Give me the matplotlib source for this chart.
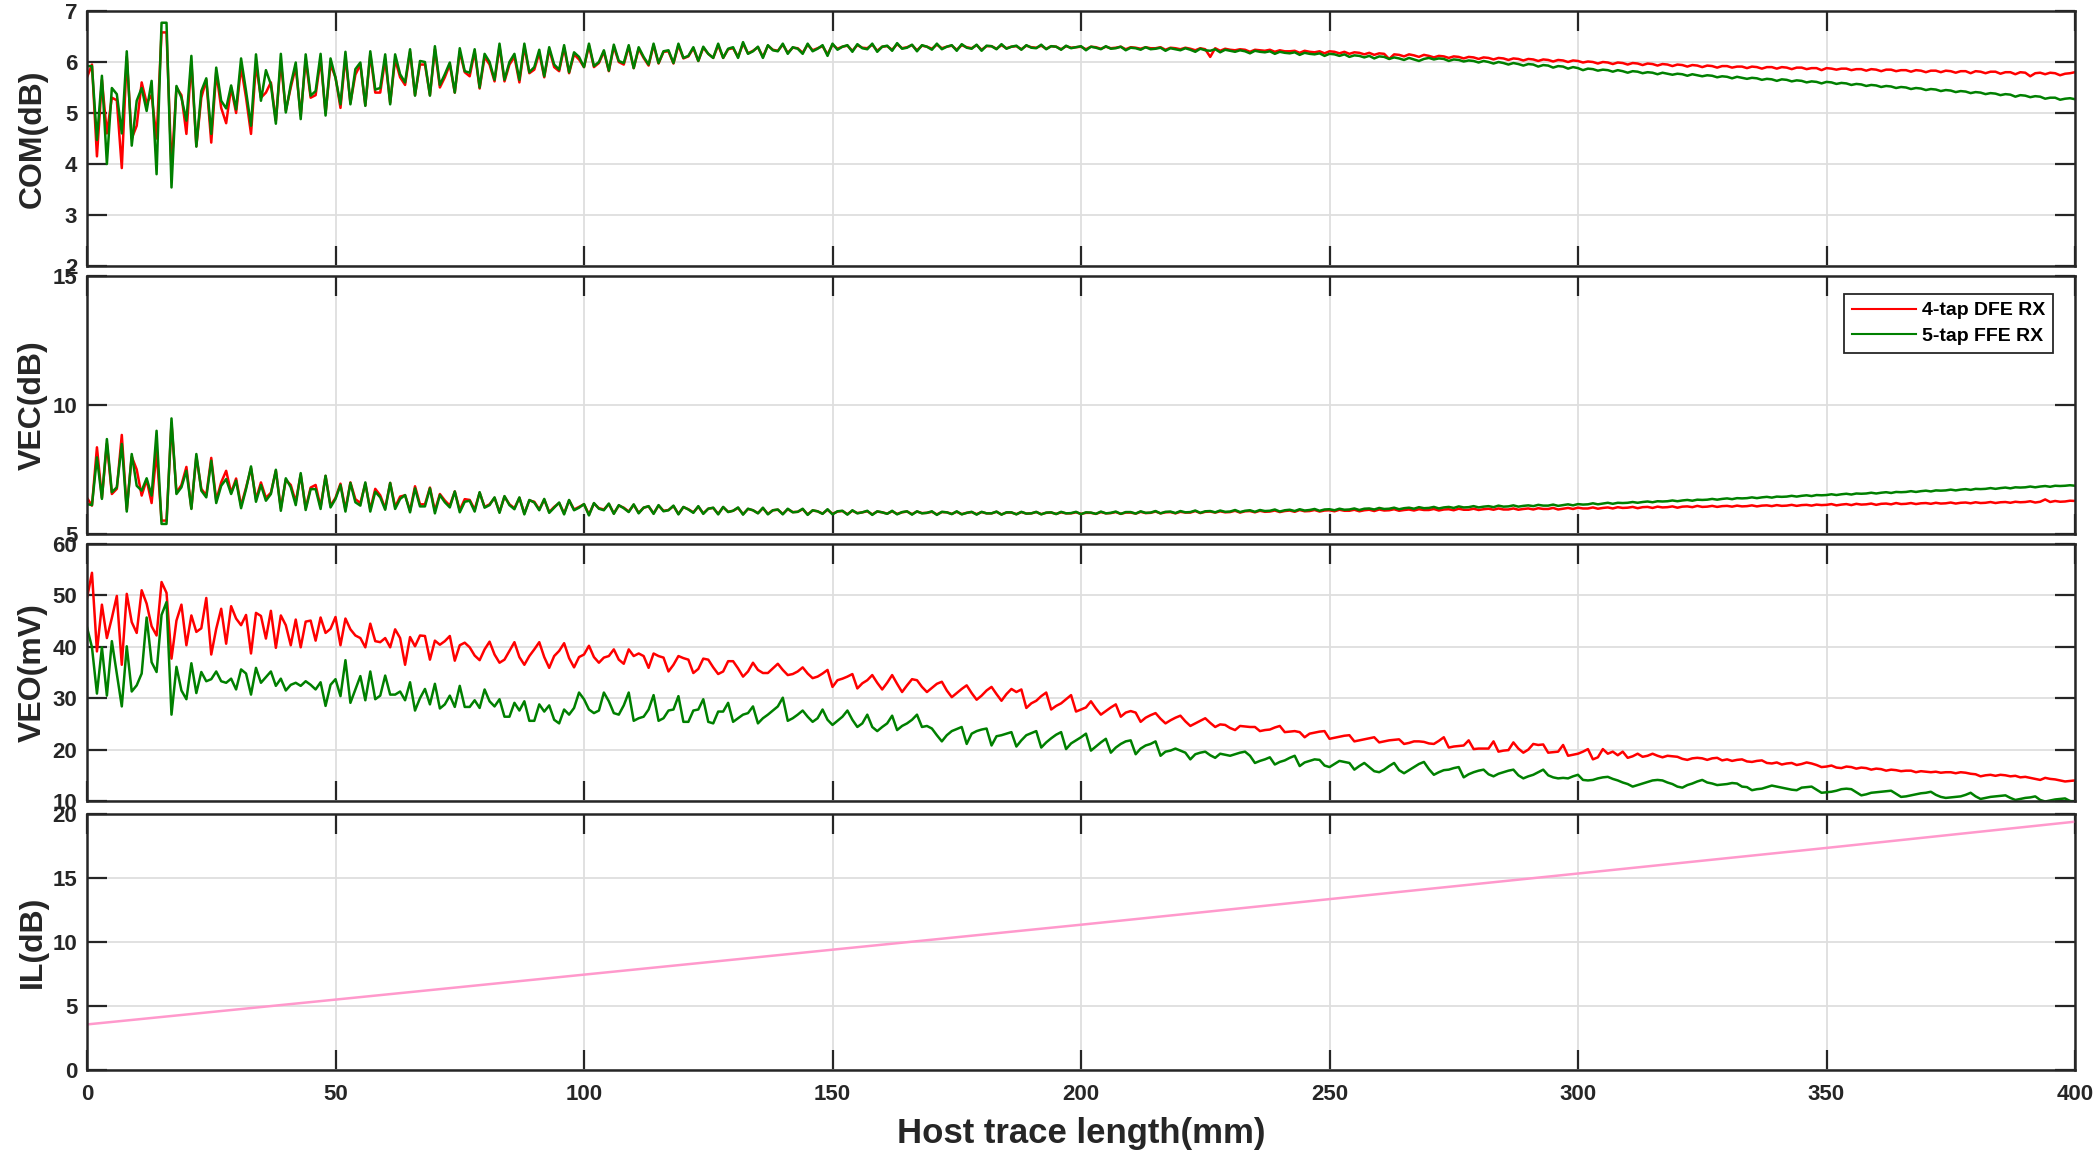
import numpy as np
import matplotlib
matplotlib.use("Agg")
import matplotlib.pyplot as plt

plt.rcParams['font.family'] = ['Liberation Sans', 'DejaVu Sans']
plt.rcParams['font.weight'] = 'bold'

# ---- data, 1 mm steps from 0 to 400 mm ----
com_dfe = [
    5.70, 5.95, 4.15, 5.65, 4.60, 5.30, 5.25, 3.92, 6.10, 4.50,
    4.75, 5.60, 5.20, 5.35, 4.50, 6.58, 6.58, 3.90, 5.50, 5.35,
    4.59, 6.00, 4.35, 5.30, 5.65, 4.42, 5.80, 5.10, 4.80, 5.50,
    5.00, 5.90, 5.30, 4.59, 5.95, 5.30, 5.40, 5.60, 4.85, 6.00,
    5.05, 5.50, 5.90, 4.95, 6.05, 5.30, 5.35, 6.05, 5.00, 5.95,
    5.70, 5.10, 6.10, 5.20, 5.75, 5.95, 5.15, 6.15, 5.40, 5.40,
    6.05, 5.20, 6.05, 5.70, 5.55, 6.20, 5.35, 5.95, 5.95, 5.35,
    6.25, 5.50, 5.70, 5.95, 5.40, 6.20, 5.80, 5.72, 6.20, 5.48,
    6.10, 5.95, 5.62, 6.30, 5.62, 5.95, 6.10, 5.60, 6.30, 5.78,
    5.85, 6.18, 5.70, 6.25, 5.90, 5.82, 6.28, 5.78, 6.15, 6.05,
    5.90, 6.32, 5.90, 5.98, 6.20, 5.82, 6.30, 6.00, 5.95, 6.30,
    5.88, 6.26, 6.08, 5.93, 6.33, 5.97, 6.20, 6.21, 5.97, 6.33,
    6.07, 6.11, 6.27, 6.02, 6.28, 6.16, 6.08, 6.33, 6.08, 6.25,
    6.27, 6.10, 6.36, 6.17, 6.22, 6.29, 6.10, 6.32, 6.24, 6.22,
    6.34, 6.18, 6.28, 6.27, 6.18, 6.34, 6.23, 6.27, 6.31, 6.15,
    6.34, 6.26, 6.30, 6.32, 6.22, 6.33, 6.28, 6.27, 6.34, 6.22,
    6.30, 6.31, 6.24, 6.35, 6.27, 6.29, 6.33, 6.23, 6.32, 6.30,
    6.26, 6.34, 6.27, 6.30, 6.32, 6.24, 6.33, 6.29, 6.27, 6.33,
    6.24, 6.31, 6.31, 6.26, 6.33, 6.27, 6.30, 6.31, 6.25, 6.32,
    6.29, 6.28, 6.32, 6.26, 6.31, 6.30, 6.25, 6.31, 6.28, 6.29,
    6.30, 6.25, 6.30, 6.29, 6.26, 6.30, 6.27, 6.28, 6.30, 6.25,
    6.29, 6.28, 6.26, 6.29, 6.27, 6.27, 6.29, 6.24, 6.28, 6.27,
    6.25, 6.28, 6.26, 6.23, 6.27, 6.25, 6.10, 6.27, 6.22, 6.26,
    6.24, 6.23, 6.25, 6.24, 6.20, 6.24, 6.23, 6.22, 6.24, 6.20,
    6.23, 6.21, 6.21, 6.22, 6.18, 6.22, 6.20, 6.19, 6.21, 6.17,
    6.21, 6.20, 6.17, 6.20, 6.16, 6.19, 6.18, 6.15, 6.18, 6.14,
    6.17, 6.16, 6.06, 6.15, 6.14, 6.11, 6.15, 6.13, 6.10, 6.14,
    6.12, 6.09, 6.12, 6.11, 6.08, 6.11, 6.10, 6.07, 6.10, 6.09,
    6.06, 6.09, 6.08, 6.05, 6.08, 6.07, 6.04, 6.07, 6.06, 6.03,
    6.06, 6.05, 6.02, 6.05, 6.04, 6.01, 6.04, 6.03, 6.00, 6.03,
    6.02, 5.99, 6.01, 6.00, 5.97, 6.00, 5.99, 5.96, 5.99, 5.98,
    5.95, 5.98, 5.97, 5.94, 5.97, 5.96, 5.93, 5.96, 5.95, 5.92,
    5.95, 5.94, 5.91, 5.94, 5.93, 5.90, 5.93, 5.92, 5.89, 5.92,
    5.92, 5.89, 5.91, 5.91, 5.88, 5.91, 5.90, 5.87, 5.90, 5.90,
    5.87, 5.90, 5.89, 5.86, 5.89, 5.89, 5.86, 5.88, 5.88, 5.84,
    5.88, 5.87, 5.85, 5.87, 5.87, 5.84, 5.86, 5.86, 5.83, 5.86,
    5.85, 5.82, 5.85, 5.85, 5.82, 5.84, 5.84, 5.81, 5.84, 5.83,
    5.80, 5.83, 5.83, 5.80, 5.83, 5.82, 5.79, 5.82, 5.82, 5.78,
    5.82, 5.81, 5.78, 5.81, 5.81, 5.77, 5.80, 5.80, 5.76, 5.80,
    5.79, 5.72, 5.78, 5.79, 5.76, 5.79, 5.78, 5.74, 5.77, 5.78,
    5.80,
]
com_ffe = [
    5.92, 5.92, 4.47, 5.73, 4.00, 5.49, 5.37, 4.60, 6.21, 4.36,
    5.24, 5.49, 5.04, 5.63, 3.80, 6.77, 6.77, 3.54, 5.53, 5.30,
    4.85, 6.12, 4.34, 5.43, 5.68, 4.59, 5.89, 5.24, 5.09, 5.54,
    5.07, 6.07, 5.43, 4.75, 6.15, 5.24, 5.84, 5.56, 4.79, 6.16,
    5.01, 5.56, 5.99, 4.88, 6.15, 5.34, 5.43, 6.16, 4.95, 6.07,
    5.69, 5.17, 6.20, 5.17, 5.86, 5.99, 5.14, 6.21, 5.46, 5.49,
    6.15, 5.17, 6.15, 5.76, 5.60, 6.25, 5.34, 6.02, 6.00, 5.34,
    6.31, 5.55, 5.76, 5.99, 5.40, 6.27, 5.82, 5.79, 6.25, 5.50,
    6.16, 6.00, 5.65, 6.36, 5.65, 6.00, 6.16, 5.65, 6.36, 5.80,
    5.90, 6.24, 5.72, 6.29, 5.95, 5.85, 6.33, 5.80, 6.19, 6.10,
    5.90, 6.36, 5.92, 6.00, 6.23, 5.83, 6.34, 6.02, 5.98, 6.33,
    5.88, 6.29, 6.10, 5.95, 6.36, 5.98, 6.21, 6.23, 5.98, 6.36,
    6.08, 6.12, 6.29, 6.02, 6.30, 6.16, 6.08, 6.36, 6.08, 6.26,
    6.29, 6.08, 6.39, 6.16, 6.21, 6.30, 6.08, 6.33, 6.23, 6.21,
    6.36, 6.16, 6.29, 6.26, 6.16, 6.36, 6.21, 6.26, 6.33, 6.12,
    6.36, 6.24, 6.30, 6.33, 6.20, 6.35, 6.27, 6.25, 6.36, 6.20,
    6.30, 6.32, 6.22, 6.37, 6.26, 6.28, 6.34, 6.21, 6.33, 6.30,
    6.24, 6.36, 6.25, 6.30, 6.33, 6.22, 6.35, 6.28, 6.26, 6.34,
    6.22, 6.32, 6.31, 6.25, 6.35, 6.26, 6.30, 6.32, 6.24, 6.33,
    6.28, 6.27, 6.34, 6.25, 6.31, 6.30, 6.24, 6.32, 6.27, 6.29,
    6.31, 6.23, 6.30, 6.28, 6.25, 6.31, 6.26, 6.27, 6.30, 6.23,
    6.28, 6.27, 6.24, 6.29, 6.25, 6.26, 6.28, 6.22, 6.27, 6.25,
    6.23, 6.27, 6.24, 6.20, 6.26, 6.23, 6.22, 6.25, 6.19, 6.24,
    6.22, 6.20, 6.23, 6.21, 6.17, 6.22, 6.20, 6.19, 6.21, 6.16,
    6.20, 6.18, 6.17, 6.19, 6.14, 6.18, 6.16, 6.15, 6.17, 6.12,
    6.16, 6.15, 6.12, 6.15, 6.10, 6.13, 6.12, 6.09, 6.12, 6.07,
    6.11, 6.10, 6.06, 6.09, 6.07, 6.04, 6.08, 6.05, 6.02, 6.06,
    6.08, 6.05, 6.07, 6.06, 6.02, 6.05, 6.04, 6.01, 6.03, 6.02,
    5.99, 6.02, 6.00, 5.97, 6.00, 5.98, 5.95, 5.98, 5.96, 5.93,
    5.96, 5.95, 5.91, 5.94, 5.93, 5.89, 5.92, 5.91, 5.87, 5.90,
    5.88, 5.84, 5.87, 5.86, 5.83, 5.85, 5.84, 5.81, 5.84, 5.82,
    5.79, 5.82, 5.81, 5.78, 5.80, 5.79, 5.76, 5.79, 5.77, 5.75,
    5.77, 5.76, 5.73, 5.76, 5.74, 5.72, 5.74, 5.73, 5.70, 5.72,
    5.71, 5.68, 5.71, 5.69, 5.67, 5.69, 5.68, 5.65, 5.67, 5.66,
    5.63, 5.66, 5.65, 5.62, 5.64, 5.63, 5.60, 5.62, 5.61, 5.58,
    5.61, 5.60, 5.57, 5.59, 5.58, 5.55, 5.57, 5.56, 5.53, 5.55,
    5.54, 5.51, 5.53, 5.52, 5.49, 5.51, 5.50, 5.47, 5.49, 5.48,
    5.45, 5.47, 5.46, 5.43, 5.45, 5.44, 5.41, 5.43, 5.42, 5.39,
    5.41, 5.40, 5.37, 5.39, 5.38, 5.35, 5.37, 5.36, 5.32, 5.35,
    5.34, 5.31, 5.33, 5.32, 5.28, 5.30, 5.30, 5.26, 5.28, 5.29,
    5.27,
]

vec_dfe = [
    6.40, 6.10, 8.36, 6.40, 8.50, 6.55, 6.75, 8.84, 5.95, 8.00,
    7.50, 6.49, 7.10, 6.20, 8.20, 5.52, 5.52, 9.30, 6.60, 6.90,
    7.60, 6.00, 8.00, 6.75, 6.50, 7.95, 6.30, 7.00, 7.45, 6.60,
    7.15, 6.10, 6.80, 7.55, 6.35, 7.00, 6.40, 6.60, 7.45, 6.00,
    7.10, 6.90, 6.25, 7.30, 6.00, 6.80, 6.90, 6.05, 7.25, 6.10,
    6.40, 6.95, 5.95, 7.00, 6.35, 6.20, 6.95, 5.95, 6.75, 6.50,
    6.00, 6.98, 6.05, 6.45, 6.50, 5.90, 6.85, 6.15, 6.15, 6.80,
    5.90, 6.55, 6.30, 6.10, 6.65, 5.92, 6.35, 6.32, 5.95, 6.60,
    6.05, 6.15, 6.40, 5.85, 6.45, 6.15, 6.00, 6.40, 5.80, 6.30,
    6.25, 5.95, 6.33, 5.85, 6.05, 6.20, 5.80, 6.30, 5.95, 6.05,
    6.15, 5.76, 6.18, 6.00, 5.95, 6.16, 5.80, 6.10, 6.02, 5.87,
    6.13, 5.82, 6.02, 6.07, 5.80, 6.10, 5.90, 5.93, 6.08, 5.78,
    6.04, 5.96, 5.84, 6.06, 5.80, 5.98, 6.01, 5.78, 6.04, 5.86,
    5.90, 6.01, 5.77, 5.97, 5.92, 5.81, 6.00, 5.78, 5.92, 5.94,
    5.78, 5.96, 5.85, 5.86, 5.96, 5.76, 5.91, 5.88, 5.79, 5.94,
    5.78, 5.87, 5.89, 5.77, 5.90, 5.81, 5.84, 5.88, 5.76, 5.87,
    5.84, 5.79, 5.88, 5.78, 5.84, 5.87, 5.77, 5.87, 5.81, 5.82,
    5.86, 5.76, 5.85, 5.84, 5.78, 5.86, 5.77, 5.82, 5.85, 5.77,
    5.85, 5.80, 5.80, 5.86, 5.76, 5.83, 5.83, 5.77, 5.85, 5.79,
    5.80, 5.85, 5.77, 5.82, 5.83, 5.78, 5.84, 5.80, 5.80, 5.84,
    5.78, 5.82, 5.82, 5.78, 5.85, 5.80, 5.81, 5.85, 5.78, 5.83,
    5.83, 5.79, 5.86, 5.81, 5.82, 5.87, 5.80, 5.84, 5.85, 5.80,
    5.86, 5.83, 5.83, 5.89, 5.81, 5.86, 5.87, 5.83, 5.88, 5.84,
    5.85, 5.90, 5.83, 5.88, 5.89, 5.84, 5.90, 5.86, 5.87, 5.91,
    5.85, 5.89, 5.91, 5.86, 5.93, 5.88, 5.89, 5.93, 5.87, 5.91,
    5.92, 5.88, 5.94, 5.90, 5.90, 5.94, 5.88, 5.92, 5.94, 5.89,
    5.95, 5.91, 5.92, 5.96, 5.90, 5.93, 5.95, 5.91, 5.96, 5.93,
    5.93, 5.97, 5.91, 5.95, 5.96, 5.92, 5.98, 5.94, 5.94, 5.98,
    5.93, 5.96, 5.98, 5.94, 5.99, 5.95, 5.95, 5.99, 5.94, 5.97,
    5.99, 5.95, 6.00, 5.97, 5.97, 6.01, 5.95, 5.98, 6.01, 5.97,
    6.02, 5.99, 5.99, 6.03, 5.98, 6.01, 6.03, 5.99, 6.04, 6.01,
    6.02, 6.05, 6.00, 6.04, 6.05, 6.01, 6.06, 6.03, 6.04, 6.07,
    6.02, 6.06, 6.07, 6.04, 6.09, 6.05, 6.06, 6.09, 6.05, 6.08,
    6.09, 6.06, 6.10, 6.07, 6.08, 6.11, 6.07, 6.10, 6.11, 6.08,
    6.12, 6.09, 6.10, 6.13, 6.09, 6.12, 6.13, 6.10, 6.14, 6.12,
    6.13, 6.16, 6.11, 6.14, 6.16, 6.12, 6.17, 6.14, 6.15, 6.18,
    6.13, 6.17, 6.18, 6.15, 6.20, 6.16, 6.17, 6.20, 6.16, 6.19,
    6.20, 6.17, 6.21, 6.18, 6.19, 6.22, 6.18, 6.21, 6.22, 6.19,
    6.23, 6.20, 6.21, 6.24, 6.20, 6.23, 6.24, 6.21, 6.25, 6.23,
    6.24, 6.27, 6.22, 6.25, 6.34, 6.24, 6.28, 6.25, 6.26, 6.29,
    6.28,
]
vec_ffe = [
    6.16, 6.12, 7.97, 6.36, 8.68, 6.62, 6.81, 8.49, 5.87, 8.10,
    6.87, 6.68, 7.16, 6.49, 9.00, 5.39, 5.39, 9.48, 6.55, 6.81,
    7.45, 5.97, 8.10, 6.68, 6.42, 7.84, 6.20, 6.87, 7.13, 6.55,
    7.07, 6.00, 6.74, 7.62, 6.25, 6.90, 6.29, 6.55, 7.49, 5.90,
    7.16, 6.81, 6.12, 7.36, 5.93, 6.74, 6.74, 5.97, 7.26, 6.03,
    6.36, 6.90, 5.87, 6.98, 6.23, 6.10, 7.00, 5.87, 6.64, 6.42,
    5.94, 6.98, 5.97, 6.36, 6.51, 5.84, 6.77, 6.07, 6.07, 6.77,
    5.80, 6.51, 6.23, 6.03, 6.65, 5.84, 6.25, 6.29, 5.87, 6.62,
    6.02, 6.12, 6.42, 5.82, 6.47, 6.12, 5.96, 6.42, 5.76, 6.32,
    6.22, 5.92, 6.36, 5.82, 6.02, 6.22, 5.76, 6.32, 5.92, 6.02,
    6.16, 5.72, 6.20, 5.98, 5.92, 6.18, 5.78, 6.12, 6.00, 5.85,
    6.15, 5.80, 6.02, 6.08, 5.78, 6.12, 5.88, 5.92, 6.10, 5.76,
    6.05, 5.95, 5.82, 6.08, 5.78, 5.98, 6.02, 5.76, 6.05, 5.85,
    5.90, 6.03, 5.75, 5.98, 5.92, 5.80, 6.02, 5.76, 5.92, 5.95,
    5.76, 5.98, 5.84, 5.86, 5.98, 5.74, 5.92, 5.88, 5.78, 5.96,
    5.76, 5.88, 5.90, 5.75, 5.92, 5.80, 5.84, 5.90, 5.74, 5.88,
    5.84, 5.78, 5.90, 5.76, 5.85, 5.88, 5.75, 5.88, 5.80, 5.82,
    5.88, 5.74, 5.86, 5.84, 5.77, 5.88, 5.76, 5.82, 5.86, 5.75,
    5.86, 5.80, 5.80, 5.87, 5.75, 5.84, 5.84, 5.76, 5.86, 5.79,
    5.80, 5.86, 5.76, 5.83, 5.84, 5.77, 5.86, 5.80, 5.81, 5.86,
    5.77, 5.84, 5.83, 5.78, 5.87, 5.80, 5.82, 5.87, 5.78, 5.85,
    5.85, 5.79, 5.88, 5.82, 5.83, 5.89, 5.80, 5.86, 5.87, 5.81,
    5.89, 5.84, 5.85, 5.91, 5.82, 5.88, 5.89, 5.84, 5.91, 5.86,
    5.87, 5.93, 5.85, 5.90, 5.92, 5.86, 5.93, 5.89, 5.90, 5.95,
    5.87, 5.92, 5.94, 5.89, 5.96, 5.91, 5.93, 5.97, 5.90, 5.95,
    5.96, 5.92, 5.98, 5.94, 5.95, 5.99, 5.93, 5.98, 5.99, 5.95,
    6.01, 5.97, 5.98, 6.02, 5.96, 6.00, 6.02, 5.98, 6.04, 6.00,
    6.01, 6.05, 5.99, 6.03, 6.05, 6.01, 6.07, 6.03, 6.04, 6.08,
    6.03, 6.06, 6.08, 6.04, 6.10, 6.06, 6.07, 6.11, 6.06, 6.09,
    6.11, 6.08, 6.13, 6.10, 6.10, 6.14, 6.09, 6.12, 6.15, 6.11,
    6.16, 6.14, 6.15, 6.19, 6.15, 6.18, 6.21, 6.17, 6.21, 6.20,
    6.21, 6.24, 6.21, 6.24, 6.26, 6.23, 6.27, 6.26, 6.27, 6.30,
    6.27, 6.30, 6.32, 6.29, 6.33, 6.32, 6.33, 6.36, 6.33, 6.36,
    6.38, 6.35, 6.39, 6.38, 6.39, 6.42, 6.39, 6.42, 6.44, 6.41,
    6.45, 6.44, 6.45, 6.48, 6.45, 6.48, 6.50, 6.47, 6.51, 6.50,
    6.51, 6.54, 6.51, 6.54, 6.56, 6.53, 6.57, 6.56, 6.57, 6.60,
    6.57, 6.60, 6.62, 6.59, 6.63, 6.62, 6.63, 6.66, 6.63, 6.66,
    6.68, 6.65, 6.69, 6.68, 6.69, 6.72, 6.69, 6.72, 6.74, 6.71,
    6.75, 6.74, 6.75, 6.78, 6.75, 6.78, 6.80, 6.77, 6.81, 6.80,
    6.81, 6.84, 6.81, 6.84, 6.86, 6.83, 6.87, 6.86, 6.87, 6.89,
    6.87,
]

veo_dfe = [
    49.5, 54.4, 39.1, 48.2, 41.7, 45.6, 49.9, 36.5, 50.3, 44.8,
    42.7, 51.0, 48.4, 44.0, 42.2, 52.6, 50.5, 37.7, 45.1, 48.2,
    40.3, 46.1, 42.9, 43.6, 49.5, 38.5, 43.5, 47.4, 40.6, 47.9,
    45.5, 44.2, 46.2, 38.7, 46.6, 46.0, 41.6, 47.0, 39.8, 46.1,
    44.2, 40.3, 45.3, 39.9, 44.9, 45.1, 41.2, 45.7, 42.7, 43.5,
    45.8, 40.3, 45.5, 43.4, 42.2, 41.7, 39.9, 44.5, 41.1, 40.9,
    41.7, 39.9, 43.4, 41.7, 36.5, 41.9, 40.1, 42.2, 42.1, 37.5,
    41.2, 40.4, 41.1, 42.1, 37.3, 40.3, 40.8, 39.9, 38.3, 37.4,
    39.5, 41.0, 38.5, 36.9, 37.5, 39.2, 40.9, 38.0, 36.5, 38.2,
    39.5, 40.9, 38.0, 35.9, 38.2, 39.2, 40.7, 37.8, 36.0, 38.0,
    38.5, 40.2, 38.0, 36.9, 37.9, 38.2, 39.5, 37.5, 36.7, 39.5,
    38.2, 38.7, 38.2, 35.9, 38.7, 38.2, 37.9, 35.2, 36.5, 38.2,
    37.8, 37.5, 34.9, 35.7, 37.7, 37.5, 36.0, 34.7, 35.2, 37.2,
    37.2, 35.8, 34.2, 35.2, 36.9, 35.5, 34.9, 34.9, 35.8, 36.7,
    35.5, 34.5, 34.7, 35.2, 36.0, 34.8, 33.9, 34.2, 34.8, 35.5,
    32.2, 33.5, 33.8, 34.2, 34.7, 31.9, 32.9, 33.5, 34.5, 33.0,
    31.7, 33.0, 34.5, 32.8, 31.2, 32.5, 33.7, 33.5, 32.2, 31.2,
    32.0, 32.8, 33.2, 31.5, 30.2, 31.0, 31.8, 32.5, 31.0, 29.7,
    30.5, 31.5, 32.2, 30.8, 29.5, 30.8, 31.8, 31.2, 31.7, 28.1,
    29.0, 29.5, 30.4, 31.1, 27.8, 28.5, 29.0, 29.8, 30.6, 27.4,
    27.8, 28.2, 29.4, 28.0, 26.8, 27.5, 28.2, 28.8, 26.4, 27.2,
    27.5, 27.2, 25.4, 26.2, 26.7, 27.1, 26.0, 25.1, 25.7, 26.2,
    26.6, 25.5, 24.6, 25.1, 25.6, 26.1, 25.2, 24.4, 24.9, 24.8,
    24.2, 23.8, 24.6, 24.5, 24.4, 24.4, 23.6, 23.8, 23.9, 24.3,
    24.6, 23.4, 23.5, 23.6, 23.4, 22.4, 23.1, 23.3, 23.5, 23.6,
    22.1, 22.3, 22.5, 22.7, 22.8, 21.6, 21.8, 22.0, 22.2, 22.4,
    21.4, 21.6, 21.8, 21.9, 22.0, 21.1, 21.3, 21.6, 21.6, 21.5,
    21.2, 21.1, 21.7, 22.4, 20.4, 20.6, 20.7, 20.8, 21.8, 20.1,
    20.2, 20.2, 20.2, 21.6, 19.6, 19.8, 19.9, 21.4, 20.2, 19.4,
    20.0, 21.1, 20.9, 21.0, 19.4, 19.5, 19.6, 20.9, 18.8, 19.0,
    19.2, 19.6, 20.1, 18.1, 18.5, 20.1, 19.2, 19.6, 18.9, 19.6,
    18.4, 18.7, 19.2, 18.6, 18.8, 19.2, 18.8, 18.5, 18.8, 18.7,
    18.6, 18.2, 18.0, 18.3, 18.4, 18.3, 18.0, 18.3, 18.4, 17.9,
    18.1, 17.8, 18.0, 18.1, 17.7, 17.6, 17.8, 17.9, 17.4, 17.3,
    17.5, 17.1, 17.3, 17.4, 17.0, 17.2, 17.5, 17.3, 17.0, 16.6,
    16.7, 16.9, 16.5, 16.4, 16.7, 16.6, 16.3, 16.5, 16.4, 16.1,
    16.3, 16.2, 15.9, 16.1, 16.0, 15.8, 15.9, 15.9, 15.6, 15.8,
    15.7, 15.6, 15.7, 15.5, 15.6, 15.6, 15.4, 15.6, 15.5, 15.3,
    15.2, 14.8, 15.0, 15.1, 14.9, 15.1, 15.0, 14.8, 14.9, 14.6,
    14.7, 14.5, 14.3, 14.1, 14.5, 14.3, 14.2, 14.0, 13.8, 13.9,
    14.0,
]
veo_ffe = [
    43.8, 39.9, 30.9, 39.9, 30.5, 41.1, 34.8, 28.4, 40.1, 31.3,
    32.5, 34.8, 45.7, 37.0, 35.1, 46.2, 48.7, 26.8, 36.1, 31.5,
    29.8, 36.8, 31.0, 35.1, 33.3, 33.7, 35.2, 33.3, 33.0, 33.8,
    31.7, 35.6, 34.8, 30.7, 35.9, 33.0, 34.1, 35.2, 32.4, 33.8,
    31.5, 32.6, 33.0, 32.4, 33.3, 32.6, 31.7, 33.1, 28.5, 32.6,
    33.7, 30.4, 37.4, 29.1, 31.7, 34.3, 29.6, 35.2, 29.8, 30.5,
    34.4, 30.7, 30.7, 31.3, 29.6, 33.1, 27.6, 30.0, 31.8, 28.8,
    32.8, 28.0, 28.8, 30.5, 28.3, 32.4, 28.3, 28.3, 29.6, 28.1,
    31.7, 29.4, 28.4, 29.8, 26.4, 26.4, 29.1, 27.6, 29.4, 25.6,
    25.6, 28.8, 27.4, 28.6, 25.8, 25.1, 27.8, 26.8, 28.1, 31.1,
    29.8, 27.8, 27.1, 27.6, 31.1, 29.4, 27.1, 26.8, 28.6, 31.1,
    25.6, 26.1, 26.4, 27.8, 30.6, 25.6, 26.1, 27.6, 27.8, 30.4,
    25.4, 25.4, 27.6, 27.8, 29.8, 25.4, 25.1, 27.4, 27.4, 29.1,
    25.4, 26.1, 26.8, 27.1, 28.4, 25.1, 26.1, 26.8, 27.6, 28.4,
    30.1, 25.6, 26.1, 26.8, 27.6, 26.4, 25.4, 26.1, 27.8, 25.8,
    24.8, 25.6, 26.4, 27.6, 25.8, 24.4, 25.1, 26.8, 24.4, 23.6,
    24.4, 25.1, 26.6, 23.8, 24.6, 25.1, 25.8, 26.8, 24.4, 24.6,
    24.1, 22.8, 21.6, 22.8, 23.6, 24.0, 24.4, 21.1, 23.1, 23.6,
    23.9, 24.1, 20.8, 22.6, 22.8, 23.1, 23.4, 20.6, 21.8, 22.8,
    23.2, 23.6, 20.4, 21.4, 22.2, 22.9, 23.4, 20.1, 21.2, 21.8,
    22.4, 23.1, 19.8, 20.6, 21.4, 22.1, 19.4, 20.4, 21.1, 21.6,
    21.8, 19.1, 20.2, 20.8, 21.1, 21.6, 18.8, 19.6, 19.8, 20.2,
    19.8, 19.4, 18.1, 19.1, 19.4, 19.6, 18.9, 18.4, 19.2, 19.0,
    18.8, 19.1, 19.4, 19.6, 18.8, 17.4, 17.8, 18.1, 18.5, 17.1,
    17.6, 17.9, 18.4, 18.8, 16.8, 17.5, 17.8, 18.1, 18.0, 16.9,
    16.6, 17.2, 17.8, 17.6, 17.4, 16.1, 16.8, 17.4, 16.6, 15.8,
    15.6, 16.1, 16.8, 17.4, 16.0, 15.4, 16.0, 16.6, 17.2, 17.6,
    16.2, 15.1, 15.6, 16.0, 16.1, 16.4, 16.6, 14.6, 15.2, 15.6,
    15.9, 16.1, 15.2, 14.8, 15.3, 15.6, 15.9, 16.1, 15.0, 14.4,
    14.8, 15.1, 15.6, 16.1, 15.0, 14.6, 14.4, 14.5, 14.4, 14.8,
    15.1, 14.1, 14.0, 14.1, 14.4, 14.6, 14.7, 14.3, 14.0, 13.6,
    13.3, 12.8, 13.1, 13.4, 13.7, 14.0, 14.1, 14.0, 13.6, 13.3,
    12.8, 12.6, 13.1, 13.4, 13.8, 14.1, 13.6, 13.4, 13.1, 13.2,
    13.3, 13.5, 13.4, 12.8, 12.7, 12.1, 12.3, 12.4, 12.7, 13.0,
    12.8, 12.6, 12.4, 12.2, 12.1, 12.6, 12.7, 12.8, 12.2, 11.6,
    11.7, 11.8, 12.0, 12.3, 12.4, 12.3, 11.7, 11.1, 11.3, 11.6,
    11.7, 11.8, 11.9, 12.0, 11.4, 10.8, 10.9, 11.1, 11.3, 11.5,
    11.6, 11.8, 11.2, 10.8, 10.6, 10.7, 10.8, 10.9, 11.2, 11.6,
    10.9, 10.4, 10.6, 10.8, 10.9, 11.0, 11.1, 10.6, 10.2, 10.4,
    10.6, 10.7, 10.9, 10.2, 9.9, 10.1, 10.3, 10.4, 10.5, 10.0,
    9.8,
]

il_len = [0, 50, 100, 150, 200, 250, 300, 350, 400]
il_db = [3.56, 5.50, 7.45, 9.40, 11.35, 13.35, 15.35, 17.35, 19.40]

labels = ["4-tap DFE RX", "5-tap FFE RX"]
x_ticks = [0, 50, 100, 150, 200, 250, 300, 350, 400]

# ---- figure ----
W, H = 2094, 1152
fig = plt.figure(figsize=(W / 100, H / 100), dpi=100)

def rect(top, bottom, left=87, right=2075):
    return [left / W, 1 - bottom / H, (right - left) / W, (bottom - top) / H]

dark = '#262626'
panels = [
    (rect(11, 266), (2, 7), [2, 3, 4, 5, 6, 7], "COM(dB)"),
    (rect(276, 534), (5, 15), [5, 10, 15], "VEC(dB)"),
    (rect(544, 801), (10, 60), [10, 20, 30, 40, 50, 60], "VEO(mV)"),
    (rect(814, 1070), (0, 20), [0, 5, 10, 15, 20], "IL(dB)"),
]

axes = []
for r, ylim, yt, ylab in panels:
    ax = fig.add_axes(r)
    ax.set_xlim(0, 400)
    ax.set_ylim(*ylim)
    ax.set_xticks(x_ticks)
    ax.set_yticks(yt)
    ax.grid(True, color='#dedede', lw=1.3)
    ax.set_axisbelow(True)
    ax.tick_params(direction='in', length=14.5, width=1.6, color=dark,
                   labelsize=16, labelcolor=dark, pad=7,
                   top=True, right=True)
    ax.tick_params(axis='x', pad=10)
    for s in ax.spines.values():
        s.set_linewidth(1.8)
        s.set_color(dark)
    for lab in ax.get_yticklabels():
        lab.set_fontweight('bold')
    # y label centred at x = 33 px
    yc = 1 - (r[1] + r[3] / 2)
    fig.text(33 / W, 1 - yc, ylab, rotation=90, ha='center', va='center',
             fontsize=23, fontweight='bold', color=dark)
    axes.append(ax)

for ax in axes[:3]:
    ax.tick_params(labelbottom=False)
for lab in axes[3].get_xticklabels():
    lab.set_fontweight('bold')

series = [(com_dfe, com_ffe), (vec_dfe, vec_ffe), (veo_dfe, veo_ffe)]
for ax, (dfe, ffe) in zip(axes[:3], series):
    ax.plot(np.arange(len(dfe)), dfe, color='#ff0000', lw=1.8, label=labels[0])
    ax.plot(np.arange(len(ffe)), ffe, color='#008000', lw=1.8, label=labels[1])

axes[3].plot(il_len, il_db, color='#ff99cc', lw=1.8)

leg = axes[1].legend(loc='upper right', bbox_to_anchor=(0.989, 0.93),
                     borderaxespad=0, fancybox=False, framealpha=1,
                     edgecolor='#262626', prop={'size': 14, 'weight': 'bold'},
                     handlelength=3.3, handletextpad=0.3, borderpad=0.4,
                     labelspacing=0.4)
leg.get_frame().set_linewidth(1.3)
for h in leg.get_lines():
    h.set_linewidth(1.5)

fig.text(1081 / W, 1 - 1134 / H, "Host trace length(mm)", ha='center',
         va='center', fontsize=25, fontweight='bold', color=dark)

fig.savefig("out.png", dpi=100)
